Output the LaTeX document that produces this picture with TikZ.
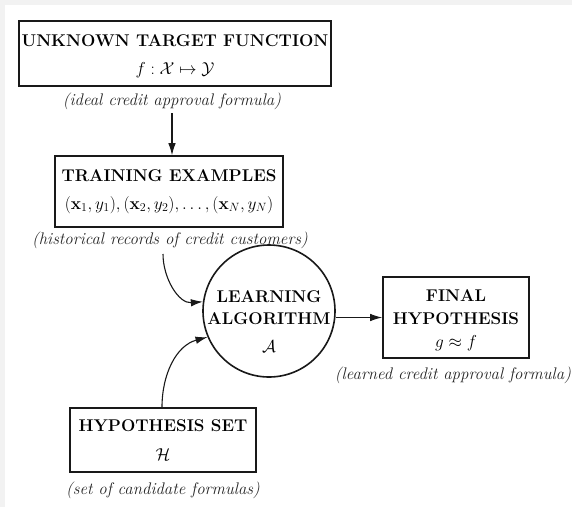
\documentclass[tikz,border=0pt]{standalone}
\usetikzlibrary{arrows.meta}
\begin{document}
\begin{tikzpicture}[x=1pt,y=-1pt,
  box/.style={draw=black!90,line width=1.6pt,inner sep=0pt,align=center,text=black},
  lbl/.style={inner sep=0pt,font=\fontsize{16.8}{20}\selectfont\itshape,text=black!85},
  arr/.style={line width=1.1pt,draw=black!90,-{Latex[length=12pt,width=7.5pt]}},
  every node/.style={font=\fontsize{17}{28}\selectfont}]
\useasboundingbox (0,0) rectangle (572,507);
\fill[black!5] (0,0) rectangle (572,507);
\fill[white] (5,5) rectangle (572,507);
\node[box,minimum width=312pt,minimum height=65pt] (target) at (175,53.5) {};
\node[inner sep=0pt,align=center] (ttxt) at (175,56)
  {\textbf{UNKNOWN TARGET FUNCTION}\\ $f:\mathcal{X}\mapsto\mathcal{Y}$};
\node[lbl] (tlbl) at (172,101) {(ideal credit approval formula)};
\node[box,minimum width=228pt,minimum height=71pt] (train) at (169,191.5)
  {\textbf{TRAINING EXAMPLES}\\ $(\mathbf{x}_1,y_1),(\mathbf{x}_2,y_2),\ldots,(\mathbf{x}_N,y_N)$};
\node[lbl] (trlbl) at (170,240) {(historical records of credit customers)};
\node[draw=black!90,line width=1.6pt,circle,minimum size=132pt,inner sep=0pt] (alg) at (269,311) {};
\node[inner sep=0pt,align=center] (algtxt) at (269,322)
  {\textbf{LEARNING}\\[-6pt] \textbf{ALGORITHM}\\[0pt] $\mathcal{A}$};
\node[box,minimum width=146pt,minimum height=81pt] (final) at (456,317.5) {};
\node[inner sep=0pt,align=center] (ftxt) at (456,320)
  {\textbf{FINAL}\\[-5pt] \textbf{HYPOTHESIS}\\[-5pt] $g\approx f$};
\node[lbl] (flbl) at (453,375) {(learned credit approval formula)};
\node[box,minimum width=186pt,minimum height=64pt] (hyp) at (163,440)
  {\textbf{HYPOTHESIS SET}\\[1pt] $\mathcal{H}$};
\node[lbl] (hlbl) at (163,490) {(set of candidate formulas)};
\coordinate (s0) at (172,113);
\coordinate (s1) at (163,254);
\coordinate (s2) at (162,408);
\draw[arr] (s0) -- (s0 |- train.north);
\draw[arr] (s1) to[out=-90,in=185] (alg.172);
\draw[arr] (hyp.north -| s2) to[out=90,in=195] (alg.203);
\draw[arr] (alg.east |- final.west) -- (final.west);
\end{tikzpicture}
\end{document}
